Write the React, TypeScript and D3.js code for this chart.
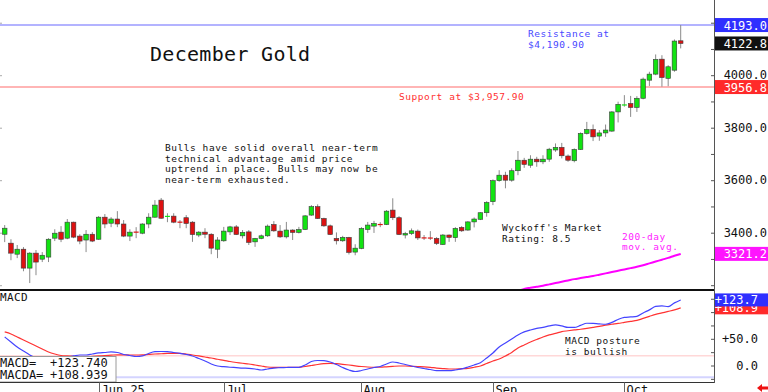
import React from "react";
import * as d3 from "d3";

// ---------- DATA ----------
const opens = [3396,3362,3320,3339,3267,3324,3301,3309,3381,3404,3381,3442,3389,3374,3396,3377,3461,3438,3454,3435,3389,3405,3400,3435,3461,3526,3463,3465,3443,3459,3442,3393,3404,3396,3339,3371,3405,3424,3390,3405,3367,3380,3390,3433,3408,3386,3412,3403,3414,3469,3501,3456,3428,3380,3371,3384,3328,3342,3414,3427,3434,3433,3488,3459,3393,3399,3408,3383,3383,3380,3357,3393,3383,3422,3412,3443,3453,3478,3520,3600,3621,3602,3638,3678,3659,3682,3672,3682,3717,3727,3694,3676,3719,3780,3795,3770,3782,3789,3862,3886,3894,3879,3914,3983,4006,4063,3990,4021,4133];
const highs = [3431,3377,3355,3347,3328,3336,3328,3381,3415,3427,3454,3444,3396,3412,3404,3465,3473,3461,3484,3450,3415,3423,3438,3476,3526,3534,3476,3476,3450,3469,3446,3408,3419,3400,3385,3424,3428,3431,3412,3412,3382,3395,3433,3446,3431,3443,3415,3424,3469,3507,3510,3459,3433,3403,3390,3386,3358,3423,3443,3447,3442,3488,3533,3465,3405,3418,3414,3393,3408,3385,3397,3395,3423,3427,3446,3460,3480,3522,3605,3640,3634,3647,3713,3687,3697,3691,3697,3725,3742,3744,3700,3723,3784,3824,3814,3793,3814,3865,3901,3926,3923,3922,3993,4015,4081,4078,4040,4138,4193];
const lows = [3366,3297,3305,3255,3210,3240,3290,3290,3370,3366,3377,3381,3358,3328,3366,3375,3419,3423,3423,3385,3370,3381,3396,3419,3459,3455,3442,3438,3419,3419,3367,3385,3381,3320,3305,3367,3393,3393,3380,3355,3348,3377,3386,3405,3382,3380,3374,3399,3412,3466,3454,3424,3393,3357,3367,3319,3316,3339,3401,3401,3423,3431,3450,3393,3380,3393,3374,3374,3374,3355,3355,3367,3367,3405,3409,3422,3450,3463,3507,3596,3571,3596,3621,3649,3649,3653,3663,3672,3710,3685,3672,3670,3717,3776,3751,3752,3767,3786,3822,3882,3843,3862,3910,3961,4002,3958,3960,4015,4104];
const closes = [3419,3324,3339,3267,3324,3290,3316,3377,3400,3377,3442,3385,3370,3396,3370,3461,3435,3454,3435,3389,3404,3403,3435,3461,3507,3457,3465,3442,3441,3437,3395,3404,3396,3343,3374,3408,3424,3395,3403,3365,3380,3390,3427,3409,3386,3412,3403,3414,3466,3501,3456,3428,3395,3371,3384,3327,3343,3418,3431,3437,3432,3484,3459,3395,3399,3409,3382,3381,3380,3361,3393,3384,3418,3409,3443,3454,3478,3517,3600,3621,3602,3638,3678,3662,3682,3672,3682,3720,3727,3695,3678,3719,3780,3795,3767,3782,3793,3862,3891,3891,3879,3914,3987,4006,4062,3993,4034,4132,4122.8];

const ma200StartIdx = 81;
const ma200 = [3176,3180,3188,3192,3196,3200,3205,3210,3215,3220,3225,3229,3233,3237,3242,3247,3252,3257,3262,3267,3272,3278,3285,3292,3299,3306,3314,3321.2];

const macd = [54.4,45.0,35.6,28.1,20.6,15.0,11.3,11.3,13.1,15.0,16.9,18.8,20.6,20.6,22.5,24.4,25.3,26.3,25.3,21.6,19.7,17.8,18.8,23.5,26.8,27.2,26.8,25.3,23.8,21.6,18.8,14.1,9.4,3.8,0,-1.3,-2.3,-3.0,-3.8,-4.3,-5.6,-7.5,-5.6,-3.8,-3.2,-2.8,-2.4,-2.4,1.9,8.4,10.3,9.9,7.5,2.8,-2.8,-7.5,-10.3,-8.4,-5.6,-2.8,-0.9,3.8,7.5,5.6,2.8,0,-2.8,-4.7,-6.6,-8.8,-8.8,-8.8,-7.5,-5.3,-1.9,1.9,6.2,15.0,24.4,35.6,43.1,50.7,58.2,63.8,67.5,70.4,72.2,75.0,76.9,75.0,72.2,72.2,76.0,80.1,79.7,78.8,78.2,81.6,87.2,91.0,91.9,92.9,99.4,105.1,111.6,112.6,111.2,118.2,123.74];
const macdSignal = [63.8,60.0,54.4,48.8,43.1,37.5,31.9,26.3,22.5,19.7,18.8,18.2,17.6,17.4,18.0,18.8,19.7,20.3,21.0,21.0,20.6,20.6,21.0,21.8,22.5,22.9,23.5,23.6,23.6,22.5,20.6,18.8,16.9,15.0,12.6,10.7,8.4,6.6,5.1,3.8,1.9,0,-1.9,-2.4,-2.4,-2.4,-2.4,-2.4,-0.9,0.9,2.8,4.3,5.1,4.3,3.2,1.9,0.4,-0.9,-1.9,-2.4,-2.3,-1.5,-0.6,0,0,-0.6,-1.1,-1.5,-2.4,-3.8,-4.9,-5.6,-5.6,-5.1,-4.5,-2.4,0,4.7,9.4,13.1,18.8,25.3,33.8,39.4,45.0,49.7,54.4,58.2,61.0,64.3,66.0,67.5,68.8,70.4,72.2,74.1,76.5,78.2,79.7,81.6,83.5,85.4,89.1,92.9,96.6,99.4,102.2,105.1,108.939];

const monthLabels = ["Jun 25", "Jul", "Aug", "Sep", "Oct"];
const monthStartIdx = [15, 35, 57, 78, 99];

const priceTicks = [3200, 3300, 3400, 3500, 3600, 3700, 3800, 3900, 4000, 4100, 4200];
const priceTickLabels = [3400, 3600, 3800, 4000];
const leftTicks = [3200, 3400, 3600, 3800, 4000, 4200];
const macdTicks = [-25, 0, 25, 50, 75, 100, 125];
const macdTickLabels = [0, 50];
const macdRefLevels = [19, -21];

const resistanceLevel = 4193.0;
const supportLevel = 3956.8;

const titleText = "December Gold";
const commentLines = [
  "Bulls have solid overall near-term",
  "technical advantage amid price",
  "uptrend in place. Bulls may now be",
  "near-term exhausted.",
];
const resistanceLines = ["Resistance at", "$4,190.90"];
const supportText = "Support at $3,957.90";
const ratingLines = ["Wyckoff's Market", "Rating: 8.5"];
const maLines = ["200-day", "mov. avg."];
const macdNoteLines = ["MACD posture", "is bullish"];

// ---------- CHART ----------
const W = 768;
const H = 392;
const plotRight = 714;
const FONT = "'DejaVu Sans Mono', 'Liberation Mono', monospace";

const GREEN = "#12e312";
const RED = "#dd1111";

export default function App() {
  const n = closes.length;
  const x = d3.scaleLinear().domain([0, n - 1]).range([4.7, 680.7]);
  const yP = d3.scaleLinear().domain([3183.6, 4288.4]).range([290, 0]);
  const yM = d3.scaleLinear().domain([0, 100]).range([366, 312.6]);

  const macdLine = d3
    .line<number>()
    .x((_, i) => x(i))
    .y((d) => yM(d))
    .curve(d3.curveMonotoneX);
  const maLine = d3
    .line<number>()
    .x((_, i) => x(i + ma200StartIdx))
    .y((d) => yP(d))
    .curve(d3.curveMonotoneX);

  const fmt1 = d3.format(".1f");
  const fmtSigned1 = (v: number) => (v > 0 ? "+" : "") + fmt1(v);
  const fmtSigned3 = (v: number) => (v > 0 ? "+" : "") + d3.format(".3f")(v);

  const lastClose = closes[n - 1];
  const lastMa = ma200[ma200.length - 1];
  const lastMacd = macd[n - 1];
  const lastSig = macdSignal[n - 1];

  const box = (y: number, fill: string, text: string, key: string, right = 767, boxH = 14) => (
    <g key={key}>
      <rect x={715} y={y - boxH / 2} width={W - 715} height={boxH} fill={fill} />
      <text x={right} y={y + 4.5} textAnchor="end" fill="#fff" fontSize={12} fontFamily={FONT}>
        {text}
      </text>
    </g>
  );

  const txt = (
    lines: string[],
    x0: number,
    y0: number,
    color: string,
    key: string,
    size = 9.5,
    ls = 0.55,
    dy = 10.8
  ) => (
    <text key={key} fontFamily={FONT} fontSize={size} fill={color} letterSpacing={ls}>
      {lines.map((l, i) => (
        <tspan key={i} x={x0} y={y0 + i * dy}>
          {l}
        </tspan>
      ))}
    </text>
  );

  return (
    <svg
      width={W}
      height={H}
      style={{ position: "absolute", left: 0, top: 0, background: "#fff" }}
      xmlns="http://www.w3.org/2000/svg"
    >
      <defs>
        <clipPath id="pricePanel">
          <rect x={0} y={0} width={plotRight} height={289} />
        </clipPath>
      </defs>
      <rect x={0} y={0} width={W} height={H} fill="#fff" />

      {/* left small ticks */}
      {leftTicks.map((t) => (
        <line key={"lt" + t} x1={0} x2={2} y1={yP(t)} y2={yP(t)} stroke="#aaa" />
      ))}

      {/* support / resistance lines */}
      <line x1={0} x2={plotRight} y1={yP(resistanceLevel)} y2={yP(resistanceLevel)} stroke="#9a9aff" strokeWidth={1.5} />
      <line x1={0} x2={plotRight} y1={yP(supportLevel)} y2={yP(supportLevel)} stroke="#ff9c9c" strokeWidth={1.5} />

      {/* 200-day MA */}
      <g clipPath="url(#pricePanel)">
        <path d={maLine(ma200) || ""} fill="none" stroke="#ff00ff" strokeWidth={2} />
      </g>

      {/* candles */}
      <g>
        {closes.map((c, i) => {
          const o = opens[i];
          const cx = x(i);
          const up = c >= o;
          const color = up ? GREEN : RED;
          const top = yP(Math.max(o, c));
          const bot = yP(Math.min(o, c));
          const doji = bot - top < 1.4;
          return (
            <g key={"c" + i}>
              <line x1={cx} x2={cx} y1={yP(highs[i])} y2={yP(lows[i])} stroke="#8a8a8a" strokeWidth={1} />
              {doji ? (
                <line x1={cx - 2.5} x2={cx + 2.5} y1={(top + bot) / 2} y2={(top + bot) / 2} stroke={color} strokeWidth={1.2} />
              ) : (
                <rect x={cx - 2.3} y={top} width={4.6} height={bot - top} fill={color} stroke="#3a3a3a" strokeWidth={0.6} />
              )}
            </g>
          );
        })}
      </g>

      {/* panel separator */}
      <line x1={0} x2={plotRight} y1={290} y2={290} stroke="#111" strokeWidth={2} />

      {/* title & annotations */}
      <text x={150} y={61} fontFamily={FONT} fontSize={20} letterSpacing={0.3} fill="#111">
        {titleText}
      </text>
      {txt(commentLines, 165, 150.7, "#111", "comment")}
      {txt(resistanceLines, 528, 36.7, "#4848ff", "res")}
      {txt([supportText], 399, 100.3, "#ff3030", "sup")}
      {txt(ratingLines, 502, 230.7, "#111", "rating")}
      {txt(maLines, 622, 239.5, "#ff22ff", "ma")}

      {/* MACD panel */}
      {macdRefLevels.map((v, i) => (
        <line
          key={"ref" + i}
          x1={0}
          x2={plotRight}
          y1={yM(v)}
          y2={yM(v)}
          stroke={i === 0 ? "#ffc4c4" : "#d4d4ff"}
          strokeWidth={i === 0 ? 1 : 2}
        />
      ))}
      <path d={macdLine(macdSignal) || ""} fill="none" stroke="#ff3333" strokeWidth={1.2} />
      <path d={macdLine(macd) || ""} fill="none" stroke="#4444ff" strokeWidth={1.2} />
      {txt(["MACD"], 0, 300.7, "#111", "macdlbl", 11, 0.4)}
      {txt(macdNoteLines, 565, 344, "#111", "macdnote")}

      {/* MACD legend box */}
      <rect x={-1} y={356.5} width={117} height={25.5} fill="#fff" stroke="#9a9a9a" strokeWidth={1} />
      <text fontFamily={FONT} fontSize={12} fill="#111">
        <tspan x={0} y={366.5}>MACD=</tspan>
        <tspan x={50} y={366.5}>{fmtSigned3(lastMacd)}</tspan>
        <tspan x={0} y={379.3}>MACDA=</tspan>
        <tspan x={50} y={379.3}>{fmtSigned3(lastSig)}</tspan>
      </text>

      {/* bottom axis */}
      <line x1={0} x2={plotRight} y1={382.5} y2={382.5} stroke="#333" strokeWidth={1} />
      {monthLabels.map((m, i) => {
        const sx = Math.round(x(monthStartIdx[i])) + 0.5;
        return (
          <g key={"m" + m}>
            <line x1={sx} x2={sx} y1={382.5} y2={H} stroke="#666" />
            <text x={sx + 2} y={394} fontFamily={FONT} fontSize={12} fill="#111">
              {m}
            </text>
          </g>
        );
      })}

      {/* right axis */}
      <line x1={plotRight + 0.5} x2={plotRight + 0.5} y1={0} y2={383} stroke="#555" strokeWidth={1} />
      {priceTicks.map((t) => (
        <line key={"pt" + t} x1={plotRight - 3} x2={plotRight} y1={yP(t)} y2={yP(t)} stroke="#555" />
      ))}
      {priceTickLabels.map((t) => (
        <text key={"pl" + t} x={767} y={yP(t) + 3.5} textAnchor="end" fontFamily={FONT} fontSize={12} fill="#111">
          {fmt1(t)}
        </text>
      ))}
      {macdTicks.map((t) => (
        <line key={"mt" + t} x1={plotRight - 3} x2={plotRight} y1={yM(t)} y2={yM(t)} stroke="#555" />
      ))}
      {macdTickLabels.map((t) => (
        <text key={"ml" + t} x={758} y={yM(t) + 4} textAnchor="end" fontFamily={FONT} fontSize={12} fill="#111">
          {fmtSigned1(t)}
        </text>
      ))}

      {/* value boxes */}
      {box(yP(resistanceLevel), "#2f2fff", fmt1(resistanceLevel), "b1")}
      {box(yP(lastClose), "#111", fmt1(lastClose), "b2")}
      {box(yP(supportLevel), "#ff2a2a", fmt1(supportLevel), "b3")}
      {box(yP(lastMa), "#ff14ff", fmt1(lastMa), "b4")}
      {box(yM(lastSig), "#ff2a2a", fmtSigned1(lastSig), "b5", 758, 13)}
      {box(yM(lastMacd), "#2f2fff", fmtSigned1(lastMacd), "b6", 758, 13)}

      {/* small red arrow bottom-right */}
      <path d="M757,388 L762,384 L762,386.5 L768,386.5 L768,389.5 L762,389.5 L762,392 Z" fill="#ee1111" />
    </svg>
  );
}
